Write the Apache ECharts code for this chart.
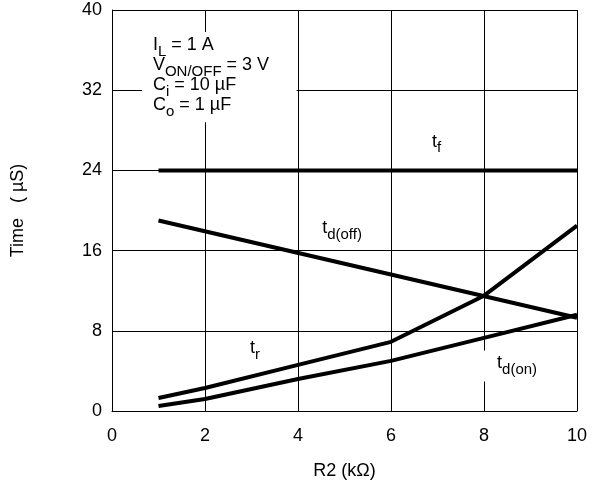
<!DOCTYPE html>
<html><head><meta charset="utf-8">
<script src="https://cdn.jsdelivr.net/npm/echarts@6/dist/echarts.min.js"></script>
<style>html,body{margin:0;padding:0;background:#fff}#c{width:600px;height:486px}</style>
</head><body><div id="c"></div>
<script>
const xTicks = [0, 2, 4, 6, 8, 10];
const yTicks = [0, 8, 16, 24, 32, 40];
const tf    = [[1, 24.0], [10, 24.0]];
const tdoff = [[1, 19.0], [10, 9.3]];
const tr    = [[1, 1.3], [2, 2.3], [4, 4.6], [6, 6.9], [8, 11.5], [10, 18.5]];
const tdon  = [[1, 0.5], [2, 1.2], [4, 3.2], [6, 5.0], [8, 7.3], [10, 9.6]];
const curveLabels = ['{m|t}{s|f}', '{m|t}{s|d(off)}', '{m|t}{s|r}', '{m|t}{s|d(on)}'];
const curveLabelAt = [[6.75, 26.6], [4.39, 18.0], [2.84, 6.0], [7.98, 4.5]];
const curveLabelPad = [[4, 6, 4, 6], [4, 6, 4, 6], [4, 6, 4, 6], [4, 6, 4, 14]];
const condLines = ['{m|I}{s|L}{m| = 1 A}', '{m|V}{s|ON/OFF}{m| = 3 V}', '{m|C}{s|i}{m| = 10 µF}', '{m|C}{s|o}{m| = 1 µF}'];
const condAt = [[0.88, 36.25], [0.88, 34.26], [0.88, 32.26], [0.88, 30.27]];
const condBox = [[0.645, 37.8], [3.97, 28.8]];

const FONT = '"Liberation Sans", Arial, sans-serif';
const rich = {
  m: {fontSize: 18, fontFamily: FONT, color: '#000', lineHeight: 18, verticalAlign: 'top'},
  s: {fontSize: 15, fontFamily: FONT, color: '#000', lineHeight: 23, verticalAlign: 'bottom'}
};
const chart = echarts.init(document.getElementById('c'));
const lineStyle = {color: '#000', width: 4};
function ser(d) {
  return {type: 'line', data: d, symbol: 'none', lineStyle: lineStyle, z: 3, silent: true};
}
const axisFont = {fontSize: 18, fontFamily: FONT, color: '#000'};
chart.setOption({
  animation: false,
  grid: {left: 112, right: 23, top: 10, bottom: 75},
  xAxis: {
    type: 'value', min: 0, max: 10, interval: 2,
    name: 'R2 (kΩ)', nameLocation: 'middle', nameGap: 51,
    nameTextStyle: axisFont,
    axisLine: {lineStyle: {color: '#000'}}, axisTick: {show: false},
    axisLabel: Object.assign({margin: 16}, axisFont),
    splitLine: {lineStyle: {color: '#000', width: 1}}
  },
  yAxis: {
    type: 'value', min: 0, max: 40, interval: 8,
    name: 'Time   ( µS)', nameLocation: 'middle', nameGap: 85,
    nameTextStyle: axisFont,
    axisLine: {show: true, lineStyle: {color: '#000'}}, axisTick: {show: false},
    axisLabel: Object.assign({margin: 10}, axisFont),
    splitLine: {lineStyle: {color: '#000', width: 1}}
  },
  series: [ser(tf), ser(tdoff), ser(tr), ser(tdon)]
});
const px = c => chart.convertToPixel({gridIndex: 0}, c);
const g = [];
const b0 = px(condBox[0]), b1 = px(condBox[1]);
g.push({type: 'rect', z: 10, shape: {x: b0[0], y: b0[1], width: b1[0] - b0[0], height: b1[1] - b0[1]}, style: {fill: '#fff'}});
condLines.forEach((t, i) => {
  const p = px(condAt[i]);
  g.push({type: 'text', z: 11, x: p[0], y: p[1], style: {text: t, rich: rich, align: 'left', verticalAlign: 'middle'}});
});
curveLabels.forEach((t, i) => {
  const p = px(curveLabelAt[i]);
  g.push({type: 'text', z: 11, x: p[0], y: p[1], style: {text: t, rich: rich, align: 'left', verticalAlign: 'middle', backgroundColor: '#fff', padding: curveLabelPad[i]}});
});
chart.setOption({graphic: g});
</script></body></html>
